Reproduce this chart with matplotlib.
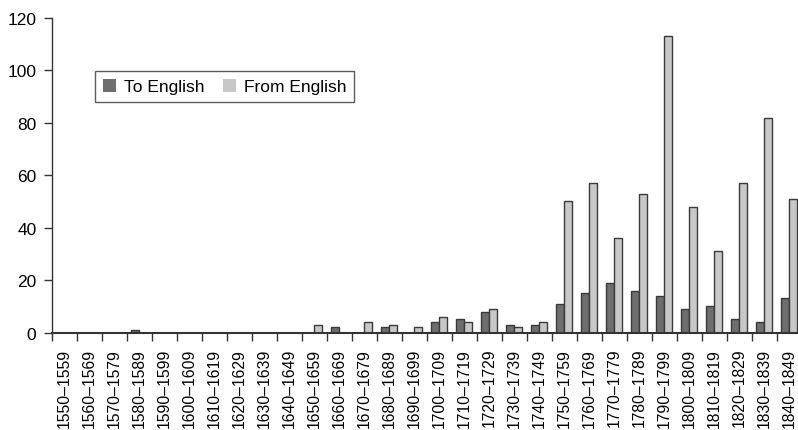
import matplotlib
matplotlib.use("Agg")
import matplotlib.pyplot as plt
import numpy as np

plt.rcParams['font.family'] = ['Liberation Sans', 'DejaVu Sans']

decades = ["1550–1559", "1560–1569", "1570–1579", "1580–1589", "1590–1599",
           "1600–1609", "1610–1619", "1620–1629", "1630–1639", "1640–1649",
           "1650–1659", "1660–1669", "1670–1679", "1680–1689", "1690–1699",
           "1700–1709", "1710–1719", "1720–1729", "1730–1739", "1740–1749",
           "1750–1759", "1760–1769", "1770–1779", "1780–1789", "1790–1799",
           "1800–1809", "1810–1819", "1820–1829", "1830–1839", "1840–1849"]
to_english = [0, 0, 0, 1, 0, 0, 0, 0, 0, 0,
              0, 2, 0, 2, 0, 4, 5, 8, 3, 3,
              11, 15, 19, 16, 14, 9, 10, 5, 4, 13]
from_english = [0, 0, 0, 0, 0, 0, 0, 0, 0, 0,
                3, 0, 4, 3, 2, 6, 4, 9, 2, 4,
                50, 57, 36, 53, 113, 48, 31, 57, 82, 51]
y_ticks = [0, 20, 40, 60, 80, 100, 120]

fig = plt.figure(figsize=(7.98, 4.31), dpi=100)
ax = fig.add_axes([0.0648, 0.2262, 0.9398, 0.7297])

x = np.arange(len(decades))
w = 0.31
edge = "#3a3a3a"
ax.bar(x - w / 2, to_english, width=w, color="#6e6e6e", edgecolor=edge,
       linewidth=[1.0 if v else 0 for v in to_english],
       label="To English", zorder=3)
ax.bar(x + w / 2, from_english, width=w, color="#c8c8c8", edgecolor=edge,
       linewidth=[1.0 if v else 0 for v in from_english],
       label="From English", zorder=3)

ax.set_xlim(-0.5, len(decades) - 0.5)
ax.set_ylim(0, 120)
ax.set_yticks(y_ticks)
ax.tick_params(axis="y", labelsize=12.5, length=6, width=1, color="#333333",
               pad=5, direction="out")

# tick marks at category boundaries, labels centred in each category
ax.set_xticks(np.arange(-0.5, len(decades), 1.0))
ax.set_xticklabels([])
ax.set_xticks(x, minor=True)
ax.set_xticklabels(decades, minor=True, rotation=90, fontsize=11.3)
ax.tick_params(axis="x", which="major", length=6, width=1, color="#333333")
ax.tick_params(axis="x", which="minor", length=0, pad=11)

for s in ("top", "right"):
    ax.spines[s].set_visible(False)
ax.spines["left"].set_color("#333333")
ax.spines["left"].set_linewidth(1.0)
ax.spines["bottom"].set_color("#333333")
ax.spines["bottom"].set_linewidth(1.5)
ax.spines["bottom"].set_zorder(4)

leg = ax.legend(loc="upper left", bbox_to_anchor=(0.0577, 0.8315), ncol=2,
                frameon=True, fancybox=False, fontsize=12.5, borderaxespad=0,
                handlelength=0.75, handleheight=0.75, handletextpad=0.45,
                columnspacing=1.1, borderpad=0.45)
leg.get_frame().set_edgecolor("#333333")
leg.get_frame().set_linewidth(1.0)

fig.savefig("out.png", dpi=100)
